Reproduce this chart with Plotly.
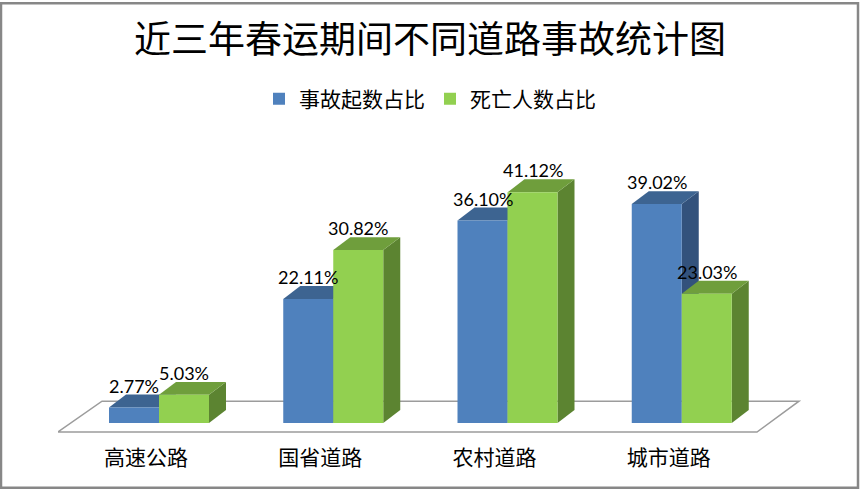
import plotly.graph_objects as go

# 数据
categories = ["高速公路", "国省道路", "农村道路", "城市道路"]
accident_share = [2.77, 22.11, 36.10, 39.02]   # 事故起数占比 (%)
death_share = [5.03, 30.82, 41.12, 23.03]      # 死亡人数占比 (%)
series_names = ["事故起数占比", "死亡人数占比"]

W, H = 860, 490
L, R, T, B = 58, 803, 130, 435          # 绘图区像素边界
PX_X = 174.25                           # 每个类别的像素宽度
PX_Y = 5.64                             # 每 1% 的像素高度
X0_PX, BASE_PX = 146, 423               # 类别0中心 / 柱底的像素位置

x_range = [(L - X0_PX) / PX_X, (R - X0_PX) / PX_X]
y_range = [-(B - BASE_PX) / PX_Y, (BASE_PX - T) / PX_Y]

bar_w = 50 / PX_X
offsets = [-37 / PX_X, 13 / PX_X]
dx, dy = 17 / PX_X, 13 / PX_Y           # 立体柱的深度

front_colors = ["#4F81BD", "#92D050"]
top_colors = ["#3D6491", "#6F9E3C"]
side_colors = ["#33527C", "#5C8431"]

fig = go.Figure()
shapes = []
annotations = []

# 底面(地板)
fy0, fy1 = -9 / PX_Y, 22 / PX_Y
fxl0, fxr0 = (58 - X0_PX) / PX_X, (757 - X0_PX) / PX_X
fxl1, fxr1 = (102 - X0_PX) / PX_X, (799 - X0_PX) / PX_X
shapes.append(dict(
    type="path", xref="x", yref="y", layer="below",
    path=f"M{fxl0},{fy0} L{fxr0},{fy0} L{fxr1},{fy1} L{fxl1},{fy1} Z",
    fillcolor="white", line=dict(color="#9C9C9C", width=1.5)
))

xs = list(range(len(categories)))
for s, values in enumerate([accident_share, death_share]):
    fig.add_trace(go.Bar(
        x=xs, y=values, name=series_names[s],
        offset=offsets[s], width=bar_w,
        marker=dict(color=front_colors[s], line=dict(width=0)),
    ))

for i in xs:
    for s, values in enumerate([accident_share, death_share]):
        v = values[i]
        x0 = i + offsets[s]
        x1 = x0 + bar_w
        # 侧面
        shapes.append(dict(
            type="path", xref="x", yref="y", layer="below",
            path=f"M{x1},0 L{x1},{v} L{x1+dx},{v+dy} L{x1+dx},{dy} Z",
            fillcolor=side_colors[s], line=dict(width=0)
        ))
        # 顶面
        shapes.append(dict(
            type="path", xref="x", yref="y", layer="below",
            path=f"M{x0},{v} L{x1},{v} L{x1+dx},{v+dy} L{x0+dx},{v+dy} Z",
            fillcolor=top_colors[s], line=dict(width=0)
        ))
        # 数据标签
        annotations.append(dict(
            x=x0 + bar_w / 2, y=v + dy, xref="x", yref="y",
            text=f"{v:.2f}%", showarrow=False,
            yanchor="middle", yshift=9,
            font=dict(family="Lato, Open Sans, sans-serif", size=18, color="black")
        ))

# 外边框
pw, ph = R - L, B - T
shapes.append(dict(
    type="rect", xref="paper", yref="paper", layer="above",
    x0=-(L - 1) / pw, x1=1 + (W - R - 2) / pw,
    y0=-(H - B - 2) / ph, y1=1 + (T - 1) / ph,
    line=dict(color="#878787", width=2.5), fillcolor="rgba(0,0,0,0)"
))

fig.update_layout(
    width=W, height=H,
    margin=dict(l=L, r=W - R, t=T, b=H - B),
    paper_bgcolor="white", plot_bgcolor="white",
    barmode="overlay",
    title=dict(
        text="近三年春运期间不同道路事故统计图",
        x=0.5, xanchor="center", y=1 - 40 / H, yanchor="middle",
        font=dict(family="Noto Sans CJK SC", size=37, color="black")
    ),
    legend=dict(
        orientation="h", x=0.5, xanchor="center", xref="container",
        y=1 - 99 / H, yanchor="middle", yref="container",
        font=dict(family="Noto Sans CJK SC", size=21, color="black")
    ),
    font=dict(family="Noto Sans CJK SC", color="black"),
    shapes=shapes,
    annotations=annotations,
)
fig.update_xaxes(
    range=x_range, tickvals=xs, ticktext=categories,
    showgrid=False, zeroline=False, showline=False, ticks="",
    ticklabelstandoff=8,
    tickfont=dict(family="Noto Sans CJK SC", size=21, color="black"),
)
fig.update_yaxes(range=y_range, visible=False, showgrid=False, zeroline=False)

# 去掉页面默认边距,让图表贴齐窗口左上角;隐藏工具栏
fig.write_html(
    "out.html",
    config={"displayModeBar": False},
    post_script="document.body.style.margin='0';",
)
